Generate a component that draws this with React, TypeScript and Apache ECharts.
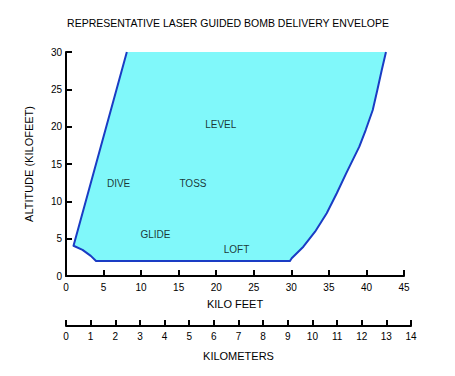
import React, { useEffect, useRef } from "react";
import * as echarts from "echarts";

const title = "REPRESENTATIVE LASER GUIDED BOMB DELIVERY ENVELOPE";
const xName = "KILO FEET";
const yName = "ALTITUDE (KILOFEET)";
const kmName = "KILOMETERS";

// envelope boundary (kilofeet range, kilofeet altitude)
const envelopeX = [8.1, 1.0, 2.2, 3.3, 4.0, 29.8, 30.05, 31.6, 33.16, 34.71, 36.05, 37.3, 39.05, 39.9, 40.84, 41.45, 42.04, 42.6];
const envelopeY = [30, 4.05, 3.5, 2.7, 2.0, 2.0, 2.37, 3.92, 5.93, 8.4, 11.08, 13.75, 17.32, 19.55, 22.23, 24.91, 27.59, 30];

const regionNames = ["LEVEL", "DIVE", "TOSS", "GLIDE", "LOFT"];
const regionX = [20.6, 7.0, 16.9, 11.9, 22.7];
const regionY = [20.3, 12.4, 12.4, 5.5, 3.6];

const FONT = "Liberation Sans, Arial, sans-serif";

export default function App() {
  const ref = useRef<HTMLDivElement>(null);
  useEffect(() => {
    if (!ref.current) return;
    const chart = echarts.init(ref.current, undefined, { renderer: "svg" });
    const axisLine = { show: true, lineStyle: { color: "#000", width: 2 } };
    const axisTick = { show: true, inside: true, length: 6, lineStyle: { color: "#000", width: 2 } };
    const axisLabel = { color: "#000", fontSize: 10, fontFamily: FONT };
    chart.setOption({
      animation: false,
      backgroundColor: "#fff",
      title: {
        text: title,
        left: 223,
        top: 12,
        textAlign: "center",
        textStyle: { fontSize: 10.5, fontWeight: "normal", color: "#000", fontFamily: FONT },
      },
      grid: [
        { left: 66, top: 52, width: 338, height: 224 },
        { left: 66, top: 325, width: 345, height: 1 },
      ],
      xAxis: [
        {
          gridIndex: 0,
          type: "value",
          min: 0,
          max: 45,
          interval: 5,
          axisLine,
          axisTick,
          axisLabel: { ...axisLabel, margin: 6 },
          splitLine: { show: false },
          name: xName,
          nameLocation: "middle",
          nameGap: 22,
          nameTextStyle: { color: "#000", fontSize: 11, fontFamily: FONT },
        },
        {
          gridIndex: 1,
          type: "value",
          min: 0,
          max: 14,
          interval: 1,
          position: "bottom",
          axisLine,
          axisTick,
          axisLabel: { ...axisLabel, margin: 5 },
          splitLine: { show: false },
          name: kmName,
          nameLocation: "middle",
          nameGap: 24,
          nameTextStyle: { color: "#000", fontSize: 11, fontFamily: FONT },
        },
      ],
      yAxis: [
        {
          gridIndex: 0,
          type: "value",
          min: 0,
          max: 30,
          interval: 5,
          axisLine,
          axisTick,
          axisLabel: { ...axisLabel, margin: 4 },
          splitLine: { show: false },
          name: yName,
          nameLocation: "middle",
          nameGap: 32,
          nameTextStyle: { color: "#000", fontSize: 11, fontFamily: FONT },
        },
        {
          gridIndex: 1,
          type: "value",
          min: 0,
          max: 1,
          show: false,
        },
      ],
      series: [
        {
          type: "custom",
          xAxisIndex: 0,
          yAxisIndex: 0,
          data: [[0, 0]],
          clip: false,
          renderItem: (_params: any, api: any) => {
            const pts = envelopeX.map((x, i) => api.coord([x, envelopeY[i]]));
            return {
              type: "group",
              children: [
                { type: "polygon", shape: { points: pts }, style: { fill: "#80f8fa", stroke: null } },
                {
                  type: "polyline",
                  shape: { points: pts },
                  style: { stroke: "#1a3cc4", lineWidth: 2, fill: null, lineJoin: "round" },
                },
              ],
            };
          },
          z: 1,
        },
        {
          type: "scatter",
          xAxisIndex: 0,
          yAxisIndex: 0,
          symbolSize: 0,
          data: regionNames.map((n, i) => ({ name: n, value: [regionX[i], regionY[i]] })),
          label: {
            show: true,
            position: "inside",
            formatter: (p: any) => p.name,
            color: "#000",
            fontSize: 10,
            fontFamily: FONT,
          },
          z: 3,
        },
      ],
    });
    return () => chart.dispose();
  }, []);
  return <div ref={ref} style={{ width: 455, height: 376, position: "absolute", left: 0, top: 0 }} />;
}
